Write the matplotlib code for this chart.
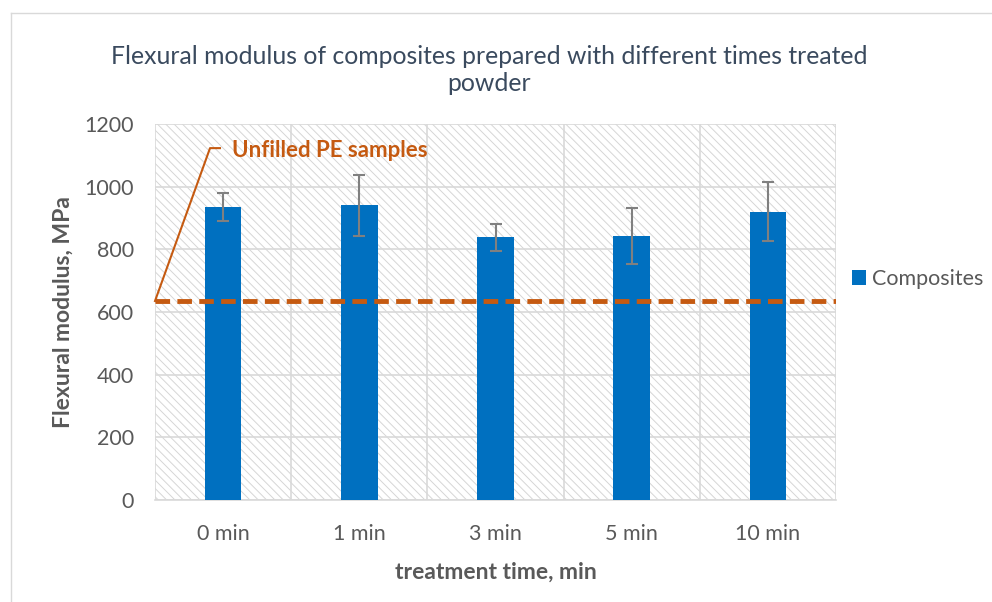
import matplotlib
matplotlib.use("Agg")
import matplotlib.pyplot as plt
from matplotlib.patches import Rectangle
from matplotlib.lines import Line2D
import numpy as np

# ─── Data ────────────────────────────────────────────────────
categories = ["0 min", "1 min", "3 min", "5 min", "10 min"]
modulus    = [935, 940, 838, 842, 920]
errors     = [45, 98, 44, 90, 94]
unfilled   = 635

BLUE   = "#0070C0"
ORANGE = "#C55A11"
GRID   = "#D9D9D9"
TEXT   = "#595959"

plt.rcParams["font.family"] = ["Lato", "DejaVu Sans"]
plt.rcParams["hatch.color"] = "#D6D6D6"
plt.rcParams["hatch.linewidth"] = 0.7

fig = plt.figure(figsize=(9.92, 6.02), dpi=100)
ax = fig.add_axes([155 / 992, 1 - 500 / 602, 681 / 992, 376 / 602])

# hatched plot area background
ax.add_patch(Rectangle((0, 0), 1, 1, transform=ax.transAxes, facecolor="white",
                       edgecolor="#D6D6D6", hatch="\\\\\\\\", linewidth=0, zorder=0))

x = np.arange(len(categories))
ax.bar(x, modulus, width=0.27, color=BLUE, zorder=3, label="Composites")
ax.errorbar(x, modulus, yerr=errors, fmt="none", ecolor="#808080",
            elinewidth=1.5, capsize=4.5, capthick=1.5, zorder=4)

ax.axhline(unfilled, color=ORANGE, linewidth=3.5, dashes=(3, 1.5), zorder=5)

# annotation with leader line
ax.plot([-0.5, -0.096, -0.023], [unfilled, 1123, 1123], color=ORANGE,
        linewidth=1.5, zorder=5, clip_on=False)
ax.text(0.065, 1117, "Unfilled PE samples", color=ORANGE, fontsize=16,
        fontweight="bold", va="center", ha="left", zorder=6)

ax.set_xlim(-0.5, len(categories) - 0.5)
ax.set_ylim(0, 1200)
ax.set_yticks(np.arange(0, 1201, 200))
ax.set_xticks(x)
ax.set_xticklabels(categories)
ax.tick_params(length=0, labelsize=15.5, labelcolor=TEXT)
ax.tick_params(axis="y", pad=15)
ax.tick_params(axis="x", pad=17)

ax.set_xticks(np.arange(-0.5, len(categories), 1), minor=True)
ax.tick_params(which="minor", length=0)
ax.grid(True, which="major", axis="y", color=GRID, linewidth=1.2, zorder=1)
ax.grid(True, which="minor", axis="x", color=GRID, linewidth=1.2, zorder=1)
ax.set_axisbelow(True)

for side in ["top", "right", "left"]:
    ax.spines[side].set_visible(False)
ax.spines["bottom"].set_color(GRID)
ax.spines["bottom"].set_linewidth(1.2)

ax.set_xlabel("treatment time, min", fontsize=16.5, fontweight="bold",
              color=TEXT, labelpad=13)
ax.set_ylabel("Flexural modulus, MPa", fontsize=16.5, fontweight="bold",
              color=TEXT, labelpad=8)

fig.text(489 / 992, 1 - 70 / 602,
         "Flexural modulus of composites prepared with different times treated\npowder",
         ha="center", va="center", fontsize=17.8, color="#3A4A5E", linespacing=1.25)

ax.legend(loc="center left", bbox_to_anchor=(852 / 992, 1 - 279 / 602),
          bbox_transform=fig.transFigure, frameon=False, fontsize=15.5,
          handlelength=0.65, handleheight=0.65, handletextpad=0.3,
          borderpad=0, borderaxespad=0, labelcolor=TEXT)

# outer chart border
fig.add_artist(Line2D([11 / 992, 11 / 992], [0, 1 - 13 / 602], color=GRID,
                      linewidth=1, transform=fig.transFigure))
fig.add_artist(Line2D([11 / 992, 1], [1 - 13 / 602, 1 - 13 / 602], color=GRID,
                      linewidth=1, transform=fig.transFigure))

fig.savefig("out.png", dpi=100)
